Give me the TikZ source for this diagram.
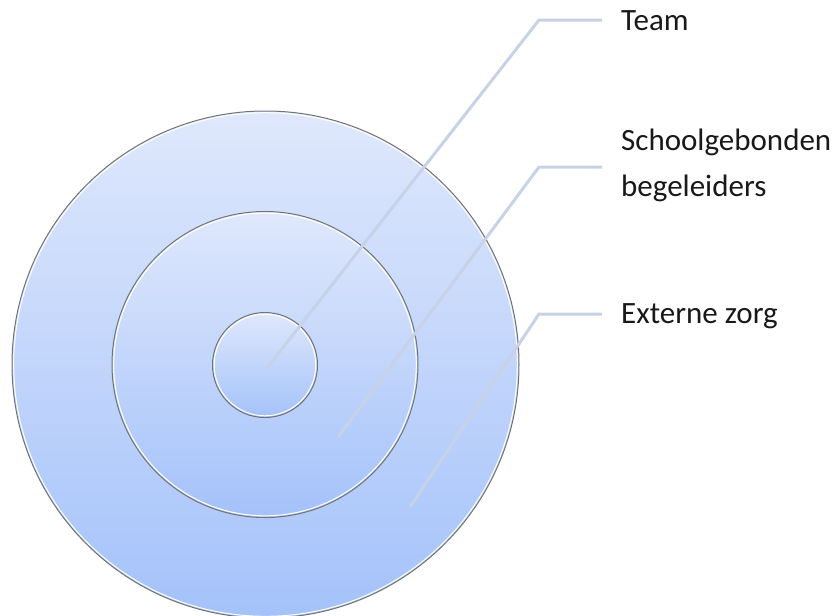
\documentclass[tikz,border=0pt]{standalone}
\usepackage{fontspec}
\setmainfont{Carlito}
\definecolor{ctop}{RGB}{223,232,252}
\definecolor{cbot}{RGB}{164,194,250}
\definecolor{rimgray}{RGB}{115,115,115}
\definecolor{leadc}{RGB}{200,210,230}
\tikzset{
  ring/.style={circle, inner sep=0pt, top color=ctop, bottom color=cbot, draw=rimgray, line width=1pt},
  rimwhite/.style={draw=white, line width=1pt},
  leader/.style={draw=leadc, line width=3pt},
  lbl/.style={font=\fontsize{31}{46}\selectfont, text=black!90, inner sep=0pt, anchor=base west, align=left}
}
\begin{document}
\begin{tikzpicture}[x=1pt,y=-1pt]
\useasboundingbox (0,0) rectangle (839,616);
\node[ring, minimum size=507pt] (outer) at (265.5,364.5) {};
\draw[rimwhite] (outer.center) circle[radius=251.8pt];
\node[ring, minimum size=306pt] (middle) at (265,364.5) {};
\draw[rimwhite] (middle.center) circle[radius=151.3pt];
\node[ring, minimum size=105pt] (inner) at (265,365) {};
\draw[rimwhite] (inner.center) circle[radius=50.8pt];

\coordinate (tA) at (267,368);
\coordinate (tB) at (539,20);
\coordinate (tC) at (602,20);
\coordinate (sA) at (338,437);
\coordinate (sB) at (539,167);
\coordinate (sC) at (602,167);
\coordinate (eA) at (410,507);
\coordinate (eB) at (539,314);
\coordinate (eC) at (602,314);

\draw[leader] (tA) -- (tB) -- (tC);
\draw[leader] (sA) -- (sB) -- (sC);
\draw[leader] (eA) -- (eB) -- (eC);

\node[lbl] (team) at (621,30) {Team};
\node[lbl] (school) at (621,196) {Schoolgebonden\\begeleiders};
\node[lbl] (extern) at (621,323) {Externe zorg};
\end{tikzpicture}
\end{document}
